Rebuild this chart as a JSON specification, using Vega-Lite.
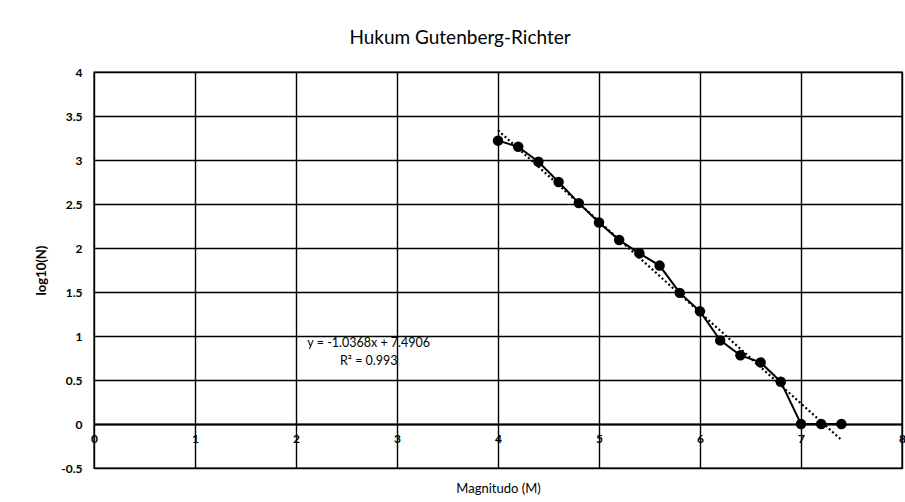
{
  "$schema": "https://vega.github.io/schema/vega-lite/v6.json",
  "width": 808,
  "height": 396,
  "autosize": {"type": "none"},
  "padding": {"left": 94, "top": 72, "right": 3, "bottom": 34},
  "background": "white",
  "title": {
    "text": "Hukum Gutenberg-Richter",
    "font": "Lato",
    "fontSize": 19,
    "fontWeight": "normal",
    "color": "#000",
    "anchor": "middle",
    "dx": -38,
    "offset": 18
  },
  "config": {
    "view": {"stroke": "#000", "strokeWidth": 1.4},
    "axis": {
      "labelFont": "Lato",
      "titleFont": "Lato",
      "labelColor": "#000",
      "titleColor": "#000",
      "gridColor": "#000",
      "gridOpacity": 1,
      "gridWidth": 1.4
    }
  },
  "datasets": {
    "pts": [
      {"M": 4.0, "logN": 3.22},
      {"M": 4.2, "logN": 3.15},
      {"M": 4.4, "logN": 2.98},
      {"M": 4.6, "logN": 2.75},
      {"M": 4.8, "logN": 2.51},
      {"M": 5.0, "logN": 2.29},
      {"M": 5.2, "logN": 2.09},
      {"M": 5.4, "logN": 1.94},
      {"M": 5.6, "logN": 1.80},
      {"M": 5.8, "logN": 1.49},
      {"M": 6.0, "logN": 1.28},
      {"M": 6.2, "logN": 0.95},
      {"M": 6.4, "logN": 0.78},
      {"M": 6.6, "logN": 0.70},
      {"M": 6.8, "logN": 0.48},
      {"M": 7.0, "logN": 0.0},
      {"M": 7.2, "logN": 0.0},
      {"M": 7.4, "logN": 0.0}
    ],
    "eq": [
      {"M": 2.72, "logN": 0.92, "label": "y = -1.0368x + 7.4906"},
      {"M": 2.72, "logN": 0.715, "label": "R² = 0.993"}
    ]
  },
  "layer": [
    {
      "data": {"name": "pts"},
      "transform": [
        {"regression": "logN", "on": "M", "method": "linear", "extent": [4, 7.4]}
      ],
      "mark": {"type": "line", "color": "#000", "strokeWidth": 2.2, "strokeDash": [2, 2.5], "clip": false},
      "encoding": {
        "x": {
          "field": "M",
          "type": "quantitative",
          "scale": {"domain": [0, 8], "nice": false, "zero": false},
          "axis": {
            "title": "Magnitudo (M)",
            "titleFontSize": 13,
            "titleFontWeight": "normal",
            "titlePadding": 38,
            "values": [0, 1, 2, 3, 4, 5, 6, 7, 8],
            "format": "d",
            "offset": -44,
            "ticks": false,
            "domainColor": "#000",
            "domainWidth": 1.8,
            "labelFontSize": 12,
            "labelFontWeight": "bold",
            "labelPadding": 9,
            "labelFlush": false,
            "grid": true
          }
        },
        "y": {
          "field": "logN",
          "type": "quantitative",
          "scale": {"domain": [-0.5, 4], "nice": false, "zero": false},
          "axis": {
            "title": "log10(N)",
            "titleFontSize": 13,
            "titleFontWeight": "bold",
            "titlePadding": 12,
            "values": [-0.5, 0, 0.5, 1, 1.5, 2, 2.5, 3, 3.5, 4],
            "labelExpr": "'' + datum.value",
            "ticks": false,
            "domain": false,
            "labelFontSize": 12,
            "labelFontWeight": "bold",
            "labelPadding": 12,
            "labelFlush": false,
            "grid": true
          }
        }
      }
    },
    {
      "data": {"name": "pts"},
      "mark": {"type": "line", "color": "#000", "strokeWidth": 2, "point": {"filled": true, "size": 110, "color": "#000"}},
      "encoding": {
        "x": {"field": "M", "type": "quantitative"},
        "y": {"field": "logN", "type": "quantitative"}
      }
    },
    {
      "data": {"name": "eq"},
      "mark": {"type": "text", "font": "Lato", "fontSize": 12.5, "fontWeight": "normal", "color": "#000", "align": "center", "baseline": "middle"},
      "encoding": {
        "x": {"field": "M", "type": "quantitative"},
        "y": {"field": "logN", "type": "quantitative"},
        "text": {"field": "label"}
      }
    }
  ]
}
